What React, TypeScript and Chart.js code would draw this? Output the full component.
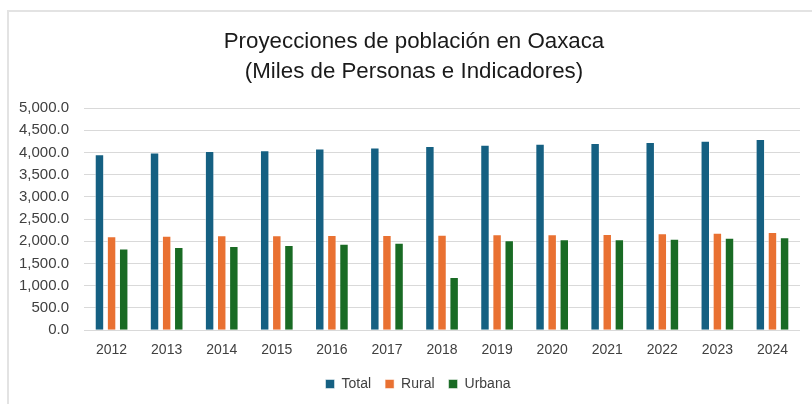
import React, { useEffect, useRef } from "react";
import { Chart, registerables } from "chart.js";

Chart.register(...registerables);

const years = ["2012","2013","2014","2015","2016","2017","2018","2019","2020","2021","2022","2023","2024"];
const total = [3961, 4000, 4030, 4052, 4090, 4113, 4143, 4173, 4195, 4211, 4234, 4264, 4300];
const rural = [2114, 2127, 2136, 2138, 2143, 2145, 2150, 2159, 2160, 2165, 2182, 2195, 2211];
const urbana = [1841, 1870, 1893, 1916, 1945, 1968, 1195, 2022, 2045, 2048, 2059, 2082, 2089];
const titleLines = ["Proyecciones de población en Oaxaca", "(Miles de Personas e Indicadores)"];

const FONT = "'Liberation Sans', Arial, Helvetica, sans-serif";

const legendShift = {
  id: "legendShift",
  afterLayout(chart: any) {
    if (chart.legend) {
      chart.legend.left += 16;
      chart.legend.right += 16;
    }
  },
};

export default function App() {
  const ref = useRef<HTMLCanvasElement>(null);
  useEffect(() => {
    if (!ref.current) return;
    const chart = new Chart(ref.current, {
      type: "bar",
      data: {
        labels: years,
        datasets: [
          { label: "Total", data: total, backgroundColor: "#156082", borderColor: "rgba(255,255,255,0.5)", borderWidth: 1 },
          { label: "Rural", data: rural, backgroundColor: "#E97132", borderColor: "rgba(255,255,255,0.5)", borderWidth: 1 },
          { label: "Urbana", data: urbana, backgroundColor: "#196B24", borderColor: "rgba(255,255,255,0.5)", borderWidth: 1 },
        ],
      },
      options: {
        animation: false,
        responsive: false,
        maintainAspectRatio: false,
        layout: { padding: { left: 4, right: 12, top: 108, bottom: 3 } },
        datasets: { bar: { categoryPercentage: 0.66, barPercentage: 0.78 } },
        plugins: {
          title: { display: false },
          legend: {
            position: "bottom",
            labels: {
              color: "#404040",
              font: { family: FONT, size: 14 },
              boxWidth: 9,
              boxHeight: 9,
              padding: 14,
            },
          },
          tooltip: { enabled: false },
        },
        scales: {
          x: {
            grid: { display: false },
            border: { display: false },
            ticks: { color: "#404040", font: { family: FONT, size: 14 }, padding: 4 },
          },
          y: {
            min: 0,
            max: 5000,
            grid: { color: "#d9d9d9", lineWidth: 1, drawTicks: false },
            border: { display: false },
            ticks: {
              stepSize: 500,
              color: "#404040",
              font: { family: FONT, size: 15 },
              padding: 15,
              callback: (v: any) =>
                Number(v).toLocaleString("en-US", { minimumFractionDigits: 1, maximumFractionDigits: 1 }),
            },
          },
        },
      },
      plugins: [legendShift],
    });
    return () => chart.destroy();
  }, []);
  return (
    <div style={{ position: "fixed", left: 0, top: 0, width: 812, height: 404, background: "#fff", overflow: "hidden" }}>
      <div
        style={{
          position: "absolute",
          left: 7,
          top: 10,
          width: 900,
          height: 500,
          borderTop: "2px solid #e3e3e3",
          borderLeft: "2px solid #e3e3e3",
        }}
      />
      <canvas ref={ref} width={812} height={404} style={{ position: "absolute", left: 0, top: 0 }} />
      <div
        style={{
          position: "absolute",
          left: 14,
          top: 26,
          width: 800,
          textAlign: "center",
          fontFamily: FONT,
          fontSize: 22.3,
          lineHeight: "30px",
          color: "#1a1a1a",
          whiteSpace: "nowrap",
        }}
      >
        {titleLines.map((t) => (
          <div key={t}>{t}</div>
        ))}
      </div>
    </div>
  );
}
